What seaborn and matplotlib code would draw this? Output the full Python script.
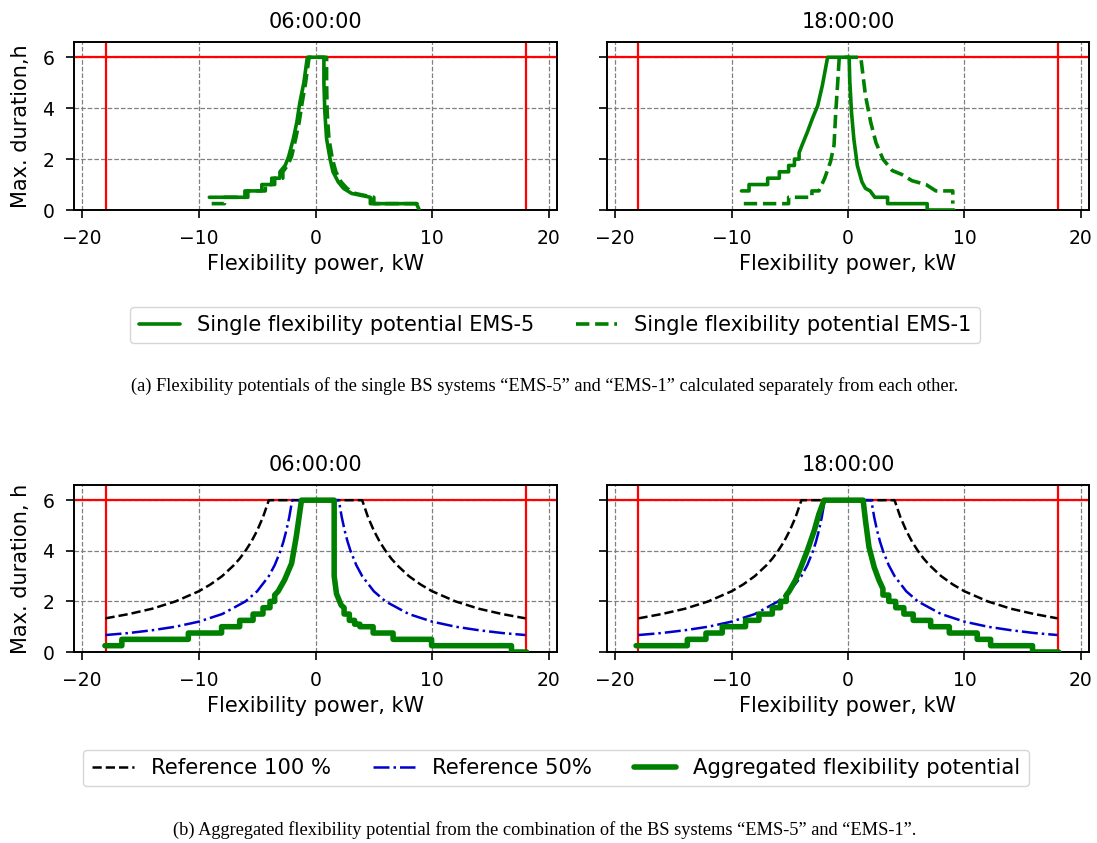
import matplotlib
matplotlib.use("Agg")
import matplotlib.pyplot as plt
import seaborn as sns

# ---------------- data ----------------
titles = ["06:00:00", "18:00:00"]
xticks = [-20, -10, 0, 10, 20]
yticks = [0, 2, 4, 6]
limit_power = [-18, 18]
limit_duration = 6

# (a) single potentials, 06:00
ems5_06_x = [-9.1, -6.05, -6.05, -4.6, -4.6, -3.75, -3.75, -3.05, -3.05, -2.6, -2.3, -1.9, -1.6,
             -1.35, -1.0, -0.7, 0.72, 0.72, 0.8, 0.95, 1.25, 1.5, 1.95, 2.4, 3.1, 4.7, 4.7, 8.65, 8.9]
ems5_06_y = [0.5, 0.5, 0.75, 0.75, 1.0, 1.0, 1.25, 1.25, 1.5, 1.75, 2.1, 2.8, 3.45,
             4.2, 5.0, 6.0, 6.0, 5.0, 3.85, 2.8, 2.0, 1.5, 1.1, 0.85, 0.65, 0.5, 0.25, 0.25, 0.0]
ems1_06_x = [-8.9, -7.8, -7.8, -5.8, -5.8, -4.3, -4.3, -3.5, -3.5, -2.8, -2.8, -2.4, -2.05, -1.7,
             -1.4, -1.15, -0.85, -0.55, 0.95, 0.95, 1.0, 1.15, 1.45, 1.75, 2.2, 2.7, 3.4, 5.0, 5.0, 8.7, 8.9]
ems1_06_y = [0.25, 0.25, 0.5, 0.5, 0.75, 0.75, 1.0, 1.0, 1.25, 1.25, 1.5, 1.75, 2.1, 2.8,
             3.45, 4.2, 5.0, 6.0, 6.0, 5.0, 3.85, 2.8, 2.0, 1.5, 1.1, 0.85, 0.65, 0.5, 0.25, 0.25, 0.0]

# (a) single potentials, 18:00
ems5_18_x = [-9.15, -8.5, -8.5, -6.9, -6.9, -5.9, -5.9, -5.1, -5.1, -4.6, -4.6, -4.2, -4.2, -3.9,
             -3.5, -3.05, -2.6, -2.2, -1.75, 0.1, 0.15, 0.3, 0.5, 0.8, 1.2, 1.5, 1.9, 2.3, 3.4,
             3.4, 6.8, 6.8, 9.1]
ems5_18_y = [0.75, 0.75, 1.0, 1.0, 1.25, 1.25, 1.5, 1.5, 1.75, 1.75, 2.0, 2.0, 2.25, 2.6,
             3.05, 3.6, 4.1, 4.9, 6.0, 6.0, 5.1, 3.85, 2.8, 1.75, 1.1, 0.85, 0.75, 0.5, 0.5,
             0.25, 0.25, 0.0, 0.0]
ems1_18_x = [-8.95, -5.1, -5.1, -3.1, -3.1, -2.5, -2.0, -1.5, -1.2, -1.05, -0.9, -0.75, 1.1,
             1.5, 1.95, 2.4, 3.0, 3.8, 4.6, 5.5, 6.7, 7.55, 9.0, 9.0]
ems1_18_y = [0.25, 0.25, 0.5, 0.5, 0.75, 0.75, 1.25, 1.9, 2.55, 3.85, 4.9, 6.0, 6.0,
             4.5, 3.45, 2.65, 2.0, 1.55, 1.4, 1.15, 1.0, 0.75, 0.75, 0.25]

# (b) references (same at both times)
ref100_x = [-18, -16, -14, -12, -10, -9, -8, -7, -6.5, -6, -5.5, -5, -4.5, -4,
            4, 4.5, 5, 5.5, 6, 6.5, 7, 8, 9, 10, 12, 14, 16, 18]
ref100_y = [1.33, 1.5, 1.71, 2.0, 2.4, 2.67, 3.0, 3.43, 3.69, 4.0, 4.36, 4.8, 5.33, 6.0,
            6.0, 5.33, 4.8, 4.36, 4.0, 3.69, 3.43, 3.0, 2.67, 2.4, 2.0, 1.71, 1.5, 1.33]
ref50_x = [-18, -16, -14, -12, -10, -8, -6, -5, -4, -3.5, -3, -2.75, -2.5, -2.25, -2.0,
           2.0, 2.25, 2.5, 2.75, 3, 3.5, 4, 5, 6, 8, 10, 12, 14, 16, 18]
ref50_y = [0.67, 0.75, 0.86, 1.0, 1.2, 1.5, 2.0, 2.4, 3.0, 3.43, 4.0, 4.36, 4.8, 5.33, 6.0,
           6.0, 5.33, 4.8, 4.36, 4.0, 3.43, 3.0, 2.4, 2.0, 1.5, 1.2, 1.0, 0.86, 0.75, 0.67]

# (b) aggregated potentials
agg_06_x = [-18.05, -16.6, -16.6, -10.9, -10.9, -8.05, -8.05, -6.5, -6.5, -5.35, -5.35, -4.5, -4.5,
            -3.9, -3.9, -3.5, -3.5, -3.2, -2.65, -2.05, -1.65, -1.2, 1.6, 1.6, 1.8, 2.2, 2.45,
            2.45, 2.9, 2.9, 3.35, 3.35, 3.8, 3.8, 4.94, 4.94, 6.65, 6.65, 9.95, 9.95, 16.8, 16.8, 18.1]
agg_06_y = [0.25, 0.25, 0.5, 0.5, 0.75, 0.75, 1.0, 1.0, 1.25, 1.25, 1.5, 1.5, 1.75,
            1.75, 2.0, 2.0, 2.25, 2.4, 2.85, 3.5, 4.55, 6.0, 6.0, 3.0, 2.3, 1.85, 1.75,
            1.5, 1.5, 1.25, 1.25, 1.1, 1.1, 1.0, 1.0, 0.75, 0.75, 0.5, 0.5, 0.25, 0.25, 0.0, 0.0]
agg_18_x = [-18.2, -13.8, -13.8, -12.2, -12.2, -10.8, -10.8, -8.8, -8.8, -7.65, -7.65, -6.5, -6.5,
            -5.8, -5.8, -5.3, -5.3, -5.05, -4.5, -4.05, -3.5, -2.9, -2.5, -2.05, 1.3, 1.5, 1.8,
            2.25, 2.65, 3.0, 3.0, 3.5, 3.5, 4.1, 4.1, 4.8, 4.8, 5.6, 5.6, 7.1, 7.1, 8.7, 8.7,
            11.1, 11.1, 12.25, 12.25, 15.85, 15.85, 18.1]
agg_18_y = [0.25, 0.25, 0.5, 0.5, 0.75, 0.75, 1.0, 1.0, 1.25, 1.25, 1.5, 1.5, 1.75,
            1.75, 2.0, 2.0, 2.25, 2.4, 2.85, 3.35, 4.0, 4.8, 5.45, 6.0, 6.0, 5.2, 4.15,
            3.35, 2.85, 2.5, 2.25, 2.25, 2.0, 2.0, 1.75, 1.75, 1.5, 1.5, 1.25, 1.25, 1.0, 1.0, 0.75,
            0.75, 0.5, 0.5, 0.25, 0.25, 0.0, 0.0]

label_ems5 = "Single flexibility potential EMS-5"
label_ems1 = "Single flexibility potential EMS-1"
label_ref100 = "Reference 100 %"
label_ref50 = "Reference 50%"
label_agg = "Aggregated flexibility potential"
caption_a = "(a) Flexibility potentials of the single BS systems \u201cEMS-5\u201d and \u201cEMS-1\u201d calculated separately from each other."
caption_b = "(b) Aggregated flexibility potential from the combination of the BS systems \u201cEMS-5\u201d and \u201cEMS-1\u201d."

# ---------------- style ----------------
sns.set_theme(style="white")
plt.rcParams["font.family"] = ["DejaVu Sans"]
plt.rcParams.update({
    "axes.edgecolor": "black",
    "axes.linewidth": 1.4,
    "text.color": "black",
    "axes.labelcolor": "black",
    "xtick.color": "black",
    "ytick.color": "black",
})

W, H = 1097, 843
fig = plt.figure(figsize=(W / 100, H / 100), dpi=100)


def px_axes(left, right, top, bottom):
    return fig.add_axes([left / W, 1 - bottom / H, (right - left) / W, (bottom - top) / H])


ax_tl = px_axes(74, 557, 42, 210)
ax_tr = px_axes(607, 1089, 42, 210)
ax_bl = px_axes(74, 557, 485, 652)
ax_br = px_axes(607, 1089, 485, 652)


def frame(ax, title, ylabel):
    ax.set_xlim(-20.7, 20.7)
    ax.set_ylim(0, 6.6)
    ax.set_xticks(xticks)
    ax.set_yticks(yticks)
    ax.grid(True, color="0.5", linestyle="--", linewidth=0.9)
    ax.set_axisbelow(True)
    ax.axhline(limit_duration, color="red", linewidth=1.6, zorder=2)
    for v in limit_power:
        ax.axvline(v, color="red", linewidth=1.6, zorder=2)
    ax.set_title(title, fontsize=15, pad=10, color="black")
    ax.set_xlabel("Flexibility power, kW", fontsize=15, labelpad=4)
    if ylabel:
        ax.set_ylabel(ylabel, fontsize=15, labelpad=8)
    else:
        ax.set_ylabel("")
        ax.tick_params(labelleft=False)
    ax.tick_params(axis="both", direction="out", length=6, width=1.2, labelsize=13.5,
                   pad=8, bottom=True, left=True, color="black", labelcolor="black")
    for s in ax.spines.values():
        s.set_color("black")


def line(ax, x, y, **kw):
    sns.lineplot(x=x, y=y, ax=ax, sort=False, estimator=None, zorder=3, **kw)


# top panels
for ax, (x5, y5, x1, y1), t, yl in [
    (ax_tl, (ems5_06_x, ems5_06_y, ems1_06_x, ems1_06_y), titles[0], "Max. duration,h"),
    (ax_tr, (ems5_18_x, ems5_18_y, ems1_18_x, ems1_18_y), titles[1], None),
]:
    frame(ax, t, yl)
    line(ax, x5, y5, color="green", linewidth=2.6, linestyle="-", label=label_ems5)
    line(ax, x1, y1, color="green", linewidth=2.6, linestyle="--", label=label_ems1)

# bottom panels
for ax, (xa, ya), t, yl in [
    (ax_bl, (agg_06_x, agg_06_y), titles[0], "Max. duration, h"),
    (ax_br, (agg_18_x, agg_18_y), titles[1], None),
]:
    frame(ax, t, yl)
    line(ax, ref100_x, ref100_y, color="black", linewidth=1.8, linestyle="--", label=label_ref100)
    line(ax, ref50_x, ref50_y, color="mediumblue", linewidth=1.8, linestyle="-.", label=label_ref50)
    line(ax, xa, ya, color="green", linewidth=4, linestyle="-", label=label_agg)

for ax in [ax_tl, ax_tr, ax_bl, ax_br]:
    leg = ax.get_legend()
    if leg is not None:
        leg.remove()

h, l = ax_tl.get_legend_handles_labels()
fig.legend(h, l, loc="center", bbox_to_anchor=(555 / W, 1 - 325 / H), ncol=2, fontsize=15,
           frameon=True)
h, l = ax_bl.get_legend_handles_labels()
fig.legend(h, l, loc="center", bbox_to_anchor=(556 / W, 1 - 768 / H), ncol=3, fontsize=15.2,
           frameon=True)

fig.text(545 / W, 1 - 386 / H, caption_a, ha="center", va="center", fontsize=13.2,
         family=["Liberation Serif"])
fig.text(545 / W, 1 - 830 / H, caption_b, ha="center", va="center", fontsize=13.2,
         family=["Liberation Serif"])

fig.savefig("out.png", dpi=100)
